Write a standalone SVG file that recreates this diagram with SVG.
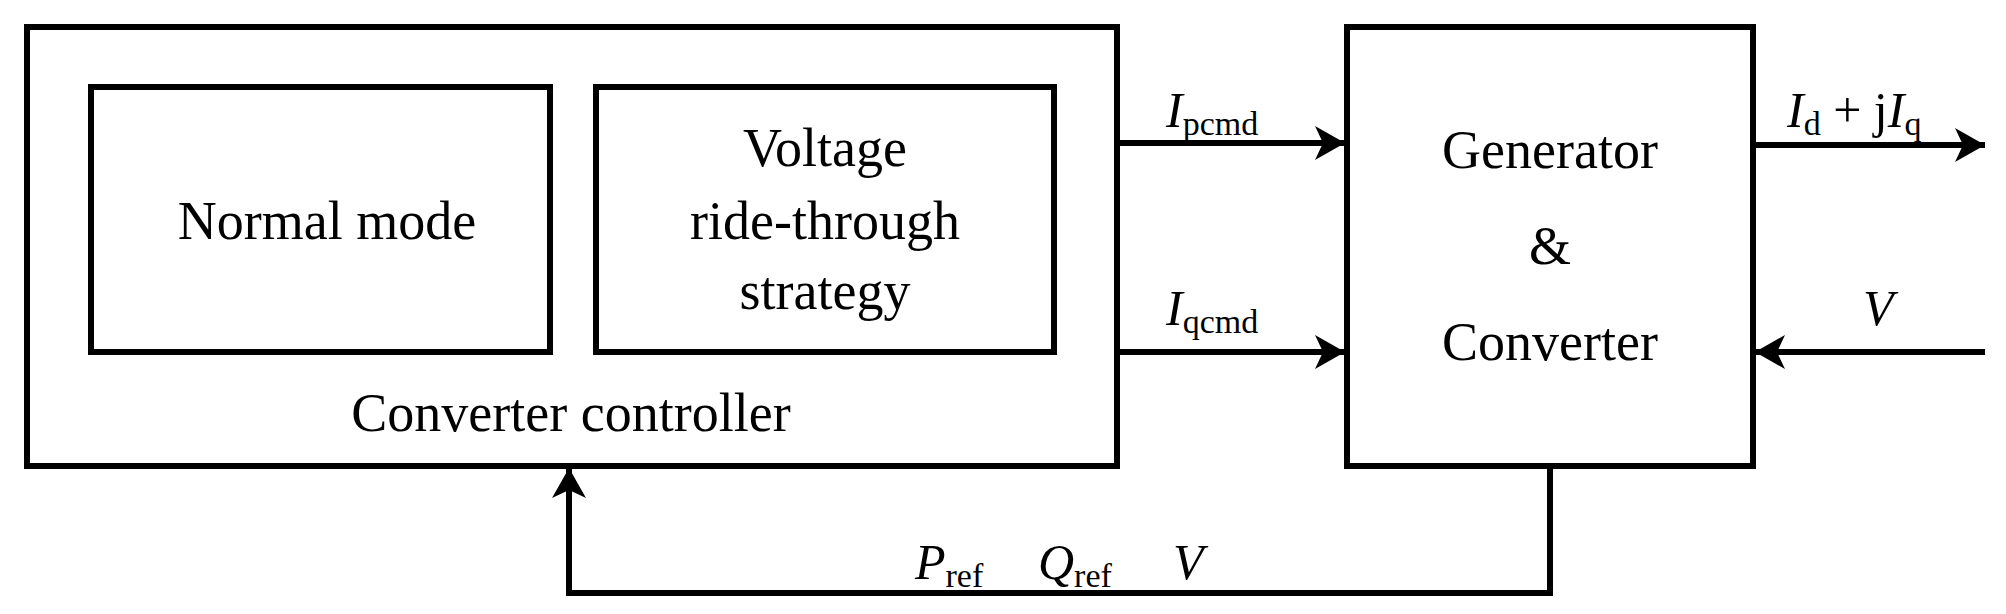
<svg xmlns="http://www.w3.org/2000/svg" width="2006" height="614" viewBox="0 0 2006 614">
<style>
.b{fill:none;stroke:#000;stroke-width:6}
.l{fill:none;stroke:#000;stroke-width:6}
text{font-family:"Liberation Serif","Times New Roman",serif;fill:#000}
.t{font-size:54px;text-anchor:middle}
.m{font-size:50px}
.i{font-style:italic}
.s{font-size:34px;font-style:normal}
</style>
<defs>
<marker id="a" markerUnits="userSpaceOnUse" markerWidth="32" markerHeight="34" refX="30" refY="17" orient="auto">
<path d="M0,0 L30,17 L0,34 L8,17 Z" fill="#000"/>
</marker>
</defs>
<rect width="2006" height="614" fill="#fff"/>
<g id="controller">
<rect class="b" x="27" y="27" width="1090" height="439"/>
<text class="t" x="571" y="431">Converter controller</text>
</g>
<g id="normal">
<rect class="b" x="91" y="87" width="459" height="265"/>
<text class="t" x="327" y="239">Normal mode</text>
</g>
<g id="vrt">
<rect class="b" x="596" y="87" width="458" height="265"/>
<text class="t" x="825" y="166">Voltage</text>
<text class="t" x="825" y="239">ride-through</text>
<text class="t" x="825" y="309">strategy</text>
</g>
<g id="gen">
<rect class="b" x="1347" y="27" width="406" height="439"/>
<text class="t" x="1550" y="168">Generator</text>
<text class="t" x="1550" y="264">&amp;</text>
<text class="t" x="1550" y="360">Converter</text>
</g>
<g id="connectors">
<line class="l" x1="1117" y1="143" x2="1345" y2="143" marker-end="url(#a)"/>
<line class="l" x1="1117" y1="352" x2="1345" y2="352" marker-end="url(#a)"/>
<line class="l" x1="1753" y1="145" x2="1985" y2="145" marker-end="url(#a)"/>
<line class="l" x1="1985" y1="352" x2="1755" y2="352" marker-end="url(#a)"/>
<polyline class="l" points="1550,466 1550,593 569,593 569,468" marker-end="url(#a)"/>
</g>
<g id="labels">
<text class="m i" x="1166" y="127">I<tspan class="s" dy="8">pcmd</tspan></text>
<text class="m i" x="1166" y="325">I<tspan class="s" dy="8">qcmd</tspan></text>
<text class="m" x="1787" y="127"><tspan class="i">I</tspan><tspan class="s" dy="8">d</tspan><tspan dy="-8"> + j</tspan><tspan class="i">I</tspan><tspan class="s" dy="8">q</tspan></text>
<text class="m i" x="1863" y="325">V</text>
<text class="m" x="915" y="579"><tspan class="i">P</tspan><tspan class="s" dy="8">ref</tspan></text>
<text class="m" x="1038" y="579"><tspan class="i">Q</tspan><tspan class="s" dy="8">ref</tspan></text>
<text class="m i" x="1173" y="579">V</text>
</g>
</svg>
